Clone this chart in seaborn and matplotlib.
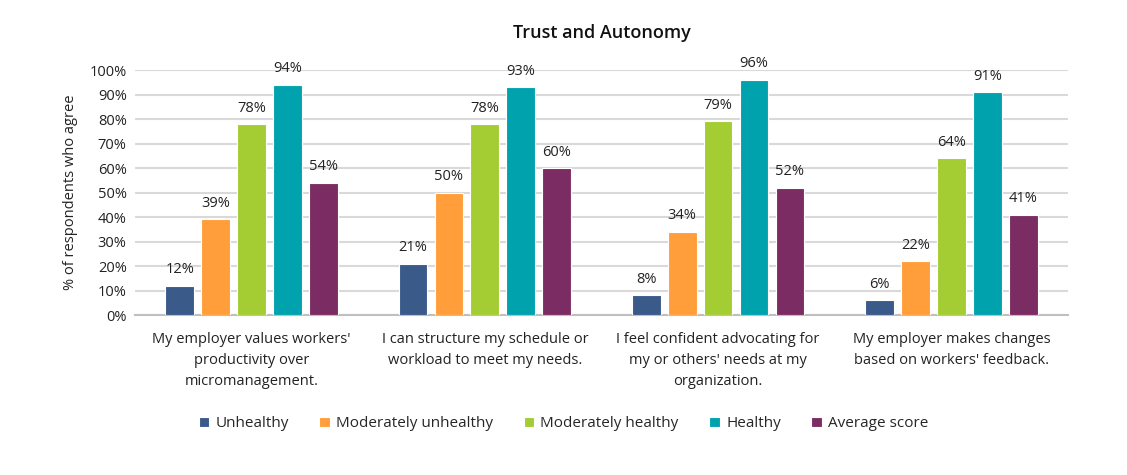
import matplotlib
matplotlib.use("Agg")
import matplotlib.pyplot as plt
import seaborn as sns
import pandas as pd

categories = [
    "My employer values workers'\nproductivity over\nmicromanagement.",
    "I can structure my schedule or\nworkload to meet my needs.",
    "I feel confident advocating for\nmy or others' needs at my\norganization.",
    "My employer makes changes\nbased on workers' feedback.",
]
series_names = ["Unhealthy", "Moderately unhealthy", "Moderately healthy", "Healthy", "Average score"]
unhealthy = [12, 21, 8, 6]
mod_unhealthy = [39, 50, 34, 22]
mod_healthy = [78, 78, 79, 64]
healthy = [94, 93, 96, 91]
average = [54, 60, 52, 41]
colors = ["#3A5A8A", "#FF9E3B", "#A3CD32", "#00A3AD", "#7B2D63"]

rows = []
for name, vals in zip(series_names, [unhealthy, mod_unhealthy, mod_healthy, healthy, average]):
    for c, v in zip(categories, vals):
        rows.append({"cat": c, "series": name, "val": v})
df = pd.DataFrame(rows)

sns.set_theme(style="white")
plt.rcParams['font.family'] = ['Open Sans', 'DejaVu Sans']

fig = plt.figure(figsize=(11.27, 4.75), dpi=100)
ax = fig.add_axes([0.1198, 0.3368, 0.8278, 0.5158])
sns.barplot(data=df, x="cat", y="val", hue="series", hue_order=series_names,
            palette=colors, saturation=1, width=0.77, gap=0.2, ax=ax, edgecolor="white",
            linewidth=0.8, legend=True, zorder=3)
ax.set_ylim(0, 100)
ax.set_xlim(-0.5, 3.5)
ax.set_yticks(range(0, 101, 10))
ax.set_yticklabels([f"{t}%" for t in range(0, 101, 10)], fontsize=10.5, color="#222222")
ax.tick_params(axis="x", labelsize=10.5, colors="#222222", length=0, pad=12)
for lbl in ax.get_xticklabels():
    lbl.set_linespacing(1.55)
ax.tick_params(axis="y", length=0, pad=6)
ax.grid(axis="y", color="#D9D9D9", linewidth=1.5, zorder=0)
ax.set_axisbelow(True)
for s in ["top", "right", "left"]:
    ax.spines[s].set_visible(False)
ax.spines["bottom"].set_color("#BFBFBF")
ax.spines["bottom"].set_linewidth(1.5)
ax.set_xlabel("")
ax.set_ylabel("% of respondents who agree", fontsize=10.5, color="#222222", labelpad=8)

for cont in ax.containers:
    ax.bar_label(cont, labels=[f"{int(v)}%" for v in cont.datavalues], padding=6,
                 fontsize=10.5, color="#222222")

ax.set_title("Trust and Autonomy", fontsize=13, fontweight="semibold", color="#111111", pad=23)

leg = ax.get_legend()
handles, labels = ax.get_legend_handles_labels()
leg.remove()
fig.legend(handles, labels, loc="center", bbox_to_anchor=(0.5, 0.108), ncol=5,
           frameon=False, fontsize=11, handlelength=0.7, handleheight=0.7,
           handletextpad=0.4, columnspacing=2.0)

fig.savefig("out.png", dpi=100, facecolor="white")
